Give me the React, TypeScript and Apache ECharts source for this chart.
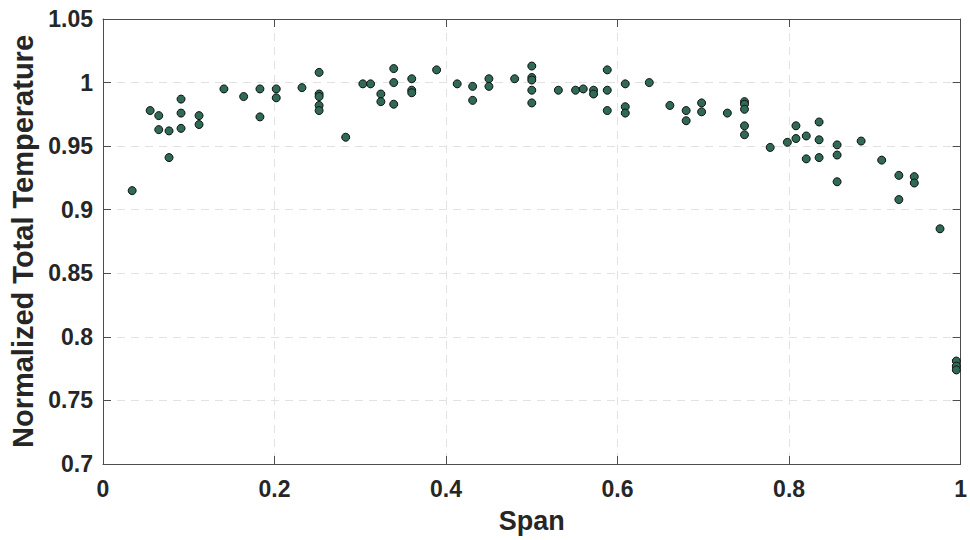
import React, { useEffect, useRef } from "react";
import * as echarts from "echarts";

const spanValues = [
  0.034, 0.055, 0.065, 0.065, 0.077, 0.077, 0.091, 0.091, 0.091, 0.112, 0.112,
  0.141, 0.164, 0.183, 0.183, 0.202, 0.202, 0.232, 0.252, 0.252, 0.252, 0.252,
  0.252, 0.283, 0.303, 0.312, 0.324, 0.324, 0.339, 0.339, 0.339, 0.36, 0.36,
  0.36, 0.389, 0.413, 0.431, 0.431, 0.45, 0.45, 0.48, 0.5, 0.5, 0.5, 0.5, 0.5,
  0.531, 0.551, 0.56, 0.572, 0.572, 0.588, 0.588, 0.588, 0.609, 0.609, 0.609,
  0.637, 0.661, 0.68, 0.68, 0.698, 0.698, 0.728, 0.748, 0.748, 0.748, 0.748,
  0.748, 0.778, 0.798, 0.808, 0.808, 0.82, 0.82, 0.835, 0.835, 0.835, 0.856,
  0.856, 0.856, 0.884, 0.908, 0.928, 0.928, 0.946, 0.946, 0.976, 0.995, 0.995,
  0.995,
];

const temperatureValues = [
  0.915, 0.978, 0.974, 0.963, 0.962, 0.941, 0.987, 0.976, 0.964, 0.974, 0.967,
  0.995, 0.989, 0.995, 0.973, 0.995, 0.988, 0.996, 1.008, 0.991, 0.989, 0.982,
  0.978, 0.957, 0.999, 0.999, 0.991, 0.985, 1.011, 1.0, 0.983, 1.003, 0.994,
  0.992, 1.01, 0.999, 0.997, 0.986, 1.003, 0.997, 1.003, 1.013, 1.004, 1.002,
  0.994, 0.984, 0.994, 0.994, 0.995, 0.994, 0.991, 1.01, 0.994, 0.978, 0.999,
  0.981, 0.976, 1.0, 0.982, 0.978, 0.97, 0.984, 0.977, 0.976, 0.985, 0.983,
  0.979, 0.966, 0.959, 0.949, 0.953, 0.966, 0.956, 0.958, 0.94, 0.969, 0.955,
  0.941, 0.951, 0.943, 0.922, 0.954, 0.939, 0.927, 0.908, 0.926, 0.921, 0.885,
  0.781, 0.777, 0.774,
];

const xTitle = "Span";
const yTitle = "Normalized Total Temperature";

const TEXT = "#262626";
const AXIS = "#4d4d4d";
const GRID = "#e2e2e2";
const FONT = "'Liberation Sans', Arial, Helvetica, sans-serif";

export default function App() {
  const ref = useRef<HTMLDivElement>(null);

  useEffect(() => {
    if (!ref.current) return;
    const chart = echarts.init(ref.current, undefined, { renderer: "svg" });
    const data = spanValues.map((s, i) => [s, temperatureValues[i]]);

    const tickStyle = { show: true, inside: true, length: 8, lineStyle: { color: AXIS, width: 1 } };
    const lineStyle = { show: true, onZero: false, lineStyle: { color: AXIS, width: 1 } };

    chart.setOption({
      animation: false,
      backgroundColor: "#ffffff",
      grid: { left: 103, right: 6, top: 19, bottom: 76, containLabel: false },
      xAxis: [
        {
          type: "value",
          min: 0,
          max: 1,
          interval: 0.2,
          name: xTitle,
          nameLocation: "middle",
          nameGap: 43,
          nameTextStyle: { fontFamily: FONT, fontWeight: "bold", fontSize: 27, color: TEXT },
          axisLine: lineStyle,
          axisTick: tickStyle,
          axisLabel: { fontFamily: FONT, fontWeight: "bold", fontSize: 23, color: TEXT, margin: 13 },
          splitLine: { show: true, lineStyle: { color: GRID, type: [8, 6], width: 1 } },
        },
        {
          type: "value",
          position: "top",
          min: 0,
          max: 1,
          interval: 0.2,
          axisLine: lineStyle,
          axisTick: tickStyle,
          axisLabel: { show: false },
          splitLine: { show: false },
        },
      ],
      yAxis: [
        {
          type: "value",
          min: 0.7,
          max: 1.05,
          interval: 0.05,
          name: yTitle,
          nameLocation: "middle",
          nameGap: 66,
          nameTextStyle: { fontFamily: FONT, fontWeight: "bold", fontSize: 29, color: TEXT },
          axisLine: lineStyle,
          axisTick: tickStyle,
          axisLabel: { fontFamily: FONT, fontWeight: "bold", fontSize: 23, color: TEXT, margin: 10 },
          splitLine: { show: true, lineStyle: { color: GRID, type: [8, 6], width: 1 } },
        },
        {
          type: "value",
          position: "right",
          min: 0.7,
          max: 1.05,
          interval: 0.05,
          axisLine: lineStyle,
          axisTick: tickStyle,
          axisLabel: { show: false },
          splitLine: { show: false },
        },
      ],
      series: [
        {
          type: "scatter",
          xAxisIndex: 0,
          yAxisIndex: 0,
          data,
          symbol: "circle",
          symbolSize: 8,
          itemStyle: { color: "#2f6b54", borderColor: "#111111", borderWidth: 1, opacity: 1 },
          emphasis: { disabled: true },
        },
      ],
    });

    return () => chart.dispose();
  }, []);

  return (
    <div
      ref={ref}
      style={{ position: "fixed", left: 0, top: 0, width: 970, height: 540, background: "#fff" }}
    />
  );
}
